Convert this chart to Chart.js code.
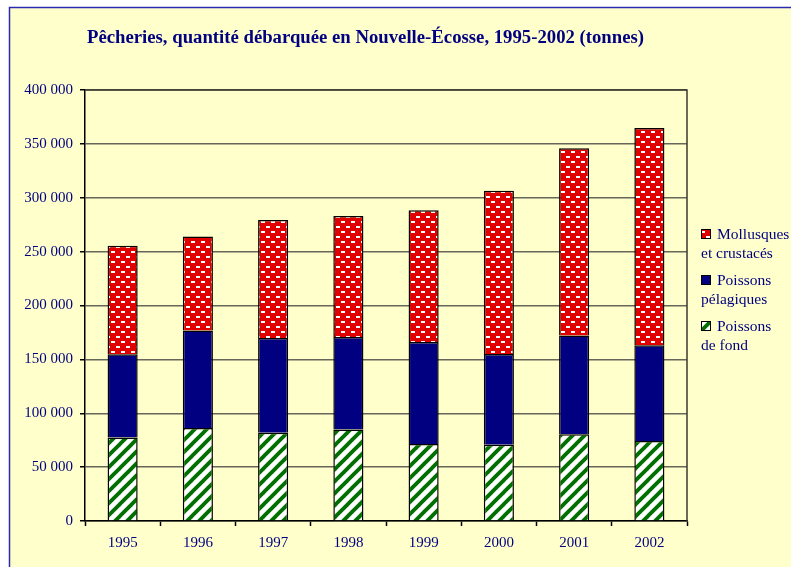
<!DOCTYPE html>
<html>
<head>
<meta charset="utf-8">
<script src="https://cdn.jsdelivr.net/npm/chart.js@4/dist/chart.umd.min.js"></script>
<style>
  html, body { margin: 0; padding: 0; background: #ffffff; }
  canvas { display: block; }
</style>
</head>
<body>
<canvas id="c" width="791" height="567"></canvas>
<script>
// ---- Data (tonnes) ----
const categories = ['1995', '1996', '1997', '1998', '1999', '2000', '2001', '2002'];
const poissonsDeFond = [77600, 86200, 82000, 85000, 71400, 70800, 80400, 74200];
const poissonsPelagiques = [77100, 90600, 87900, 85800, 94800, 84200, 91700, 88900];
const mollusquesCrustaces = [100700, 87300, 109400, 112200, 122100, 151500, 173900, 201700];
const yTicks = [0, 50000, 100000, 150000, 200000, 250000, 300000, 350000, 400000];
const legendLines = [['Mollusques', 'et crustacés'], ['Poissons', 'pélagiques'], ['Poissons', 'de fond']];
const titleText = 'Pêcheries, quantité débarquée en Nouvelle-Écosse, 1995-2002 (tonnes)';

const NAVY = '#000080';
const SERIF = '"Liberation Serif", "Times New Roman", serif';

// ---- Patterns ----
function makePattern(w, h, draw) {
  const c = document.createElement('canvas');
  c.width = w; c.height = h;
  const g = c.getContext('2d');
  draw(g, w, h);
  return document.getElementById('c').getContext('2d').createPattern(c, 'repeat');
}
const brickPattern = makePattern(10, 10, (g, w, h) => {
  g.fillStyle = '#e00000';
  g.fillRect(0, 0, w, h);
  g.fillStyle = '#ffffff';
  g.fillRect(1, 1, 4, 2);
  g.fillRect(6, 6, 4, 2);
});
const stripePattern = makePattern(12, 12, (g, w, h) => {
  g.fillStyle = '#ffffff';
  g.fillRect(0, 0, w, h);
  g.strokeStyle = '#007000';
  g.lineWidth = 3.8;
  g.lineCap = 'square';
  for (let k = -1; k <= 1; k++) {
    g.beginPath();
    g.moveTo(k * w - 2, h + 2);
    g.lineTo(k * w + w + 2, -2);
    g.stroke();
  }
});

function fmt(v) { return String(v).replace(/\B(?=(\d{3})+(?!\d))/g, ' '); }

const framePlugin = {
  id: 'frame',
  beforeDraw(chart) {
    const ctx = chart.ctx;
    ctx.save();
    ctx.fillStyle = '#ffffff';
    ctx.fillRect(0, 0, chart.width, chart.height);
    ctx.fillStyle = '#ffffcc';
    ctx.fillRect(10, 8, chart.width - 10, chart.height - 8);
    ctx.strokeStyle = '#2a2ab0';
    ctx.lineWidth = 1.5;
    ctx.beginPath();
    ctx.moveTo(9.5, chart.height);
    ctx.lineTo(9.5, 7.5);
    ctx.lineTo(chart.width, 7.5);
    ctx.stroke();
    ctx.restore();
  },
  beforeDatasetsDraw(chart) {
    const a = chart.chartArea, ctx = chart.ctx;
    ctx.save();
    ctx.strokeStyle = '#3a3a30';
    ctx.lineWidth = 1.5;
    ctx.beginPath();
    ctx.moveTo(a.left, a.top);
    ctx.lineTo(a.right, a.top);
    ctx.lineTo(a.right, a.bottom);
    ctx.stroke();
    ctx.restore();
  },
  afterDraw(chart) {
    const ctx = chart.ctx;
    ctx.save();
    // Title
    ctx.font = 'bold 18px ' + SERIF;
    ctx.fillStyle = NAVY;
    ctx.textBaseline = 'alphabetic';
    ctx.textAlign = 'left';
    const tw = ctx.measureText(titleText).width;
    const target = 557;
    ctx.translate(87, 43);
    ctx.scale(target / tw, 1);
    ctx.fillText(titleText, 0, 0);
    ctx.restore();

    // Legend (top to bottom: reverse of stacking order)
    ctx.save();
    const ds = chart.data.datasets;
    ctx.font = '15.5px ' + SERIF;
    ctx.fillStyle = NAVY;
    ctx.textBaseline = 'middle';
    ctx.textAlign = 'left';
    for (let i = 0; i < ds.length; i++) {
      const d = ds[ds.length - 1 - i];
      const lines = legendLines[i];
      const cy = 235 + i * 46;
      ctx.fillStyle = d.backgroundColor;
      ctx.fillRect(701, cy - 6, 10, 10);
      ctx.strokeStyle = '#000';
      ctx.lineWidth = 1;
      ctx.strokeRect(701.5, cy - 5.5, 9, 9);
      ctx.fillStyle = NAVY;
      ctx.fillText(lines[0], 717, cy);
      ctx.fillText(lines[1], 701, cy + 19);
    }
    ctx.restore();
  }
};

const common = { borderColor: '#000000', borderWidth: 1.5, barPercentage: 0.4, categoryPercentage: 1.0 };

new Chart(document.getElementById('c'), {
  type: 'bar',
  data: {
    labels: categories,
    datasets: [
      Object.assign({ label: legendLines[2].join(' '), data: poissonsDeFond, backgroundColor: stripePattern }, common),
      Object.assign({ label: legendLines[1].join(' '), data: poissonsPelagiques, backgroundColor: NAVY }, common),
      Object.assign({ label: legendLines[0].join(' '), data: mollusquesCrustaces, backgroundColor: brickPattern }, common)
    ]
  },
  options: {
    responsive: false,
    animation: false,
    events: [],
    layout: { padding: { left: 0, top: 90, right: 104, bottom: 0 } },
    plugins: { legend: { display: false }, title: { display: false }, tooltip: { enabled: false } },
    scales: {
      x: {
        stacked: true,
        offset: true,
        grid: { offset: true, drawOnChartArea: false, drawTicks: true, tickLength: 5, tickColor: '#000', tickWidth: 1.5 },
        border: { color: '#000', width: 1.5 },
        ticks: { color: NAVY, font: { family: SERIF, size: 15 }, padding: 8, maxRotation: 0 },
        afterFit(s) { s.height = 46; }
      },
      y: {
        stacked: true,
        min: 0,
        max: 400000,
        afterBuildTicks(s) { s.ticks = yTicks.map(v => ({ value: v })); },
        grid: { color: '#66665a', lineWidth: 1.5, tickLength: 5, tickColor: '#000', tickWidth: 1.5 },
        border: { color: '#000', width: 1.5 },
        ticks: { color: NAVY, font: { family: SERIF, size: 15 }, padding: 7, callback: v => fmt(v) },
        afterFit(s) { s.width = 85; }
      }
    }
  },
  plugins: [framePlugin]
});
</script>
</body>
</html>
